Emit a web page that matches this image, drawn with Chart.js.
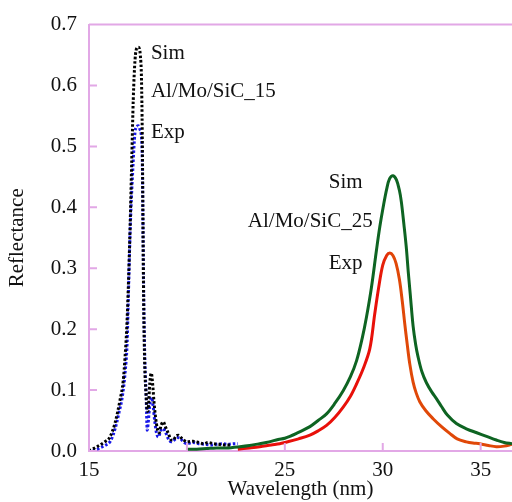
<!DOCTYPE html>
<html>
<head>
<meta charset="utf-8">
<script src="https://cdn.jsdelivr.net/npm/chart.js@4.4.1/dist/chart.umd.min.js"></script>
<style>
  html, body { margin: 0; padding: 0; background: #fff; }
  canvas { display: block; }
</style>
</head>
<body>
<canvas id="refl" width="512" height="502"></canvas>
<script>
/* ---------- data ---------- */
const xTicks = [15, 20, 25, 30, 35];
const yTicks = [0, 0.1, 0.2, 0.3, 0.4, 0.5, 0.6, 0.7];

// Al/Mo/SiC_15, simulated (black dotted)
const sim15X = [15.0, 15.4, 15.8, 16.07, 16.33, 16.58, 16.75, 16.84, 16.92, 17.0, 17.1, 17.18, 17.26, 17.35, 17.45, 17.52,
    17.62, 17.68, 17.72, 17.75, 17.78, 17.82, 17.86, 17.92, 17.98, 18.03, 18.10, 18.18, 18.25, 18.32, 18.40, 18.50,
    18.58, 18.68, 18.79, 18.90, 19.05, 19.20, 19.30, 19.45, 19.56, 19.70, 19.81, 20.0, 20.3, 20.6, 20.85, 21.1,
    21.35, 21.6, 21.9, 22.2];
const sim15Y = [0.000, 0.007, 0.015, 0.023, 0.046, 0.083, 0.116, 0.154, 0.197, 0.262, 0.370, 0.474, 0.577, 0.642, 0.662, 0.663,
    0.650, 0.610, 0.520, 0.400, 0.280, 0.180, 0.127, 0.090, 0.065, 0.070, 0.110, 0.128, 0.110, 0.080, 0.055, 0.035,
    0.030, 0.042, 0.048, 0.040, 0.029, 0.018, 0.018, 0.025, 0.026, 0.022, 0.019, 0.015, 0.016, 0.014, 0.012, 0.014,
    0.012, 0.011, 0.010, 0.010];

// Al/Mo/SiC_15, measured (blue dotted)
const exp15X = [15.2, 15.56, 15.8, 16.07, 16.25, 16.41, 16.55, 16.67, 16.78, 16.84, 16.95, 17.0, 17.1, 17.23, 17.35, 17.45,
    17.52, 17.6, 17.69, 17.73, 17.76, 17.80, 17.86, 17.91, 17.95, 17.97, 18.02, 18.10, 18.20, 18.28, 18.36, 18.45,
    18.54, 18.66, 18.79, 18.92, 19.05, 19.2, 19.35, 19.5, 19.65, 19.8, 20.0, 20.3, 20.6, 20.9, 21.2, 21.5,
    21.8, 22.1, 22.4, 22.6];
const exp15Y = [0.000, 0.005, 0.009, 0.015, 0.028, 0.046, 0.066, 0.083, 0.108, 0.127, 0.180, 0.240, 0.360, 0.458, 0.523, 0.533,
    0.534, 0.528, 0.510, 0.458, 0.360, 0.240, 0.140, 0.099, 0.050, 0.034, 0.045, 0.075, 0.088, 0.072, 0.048, 0.029,
    0.023, 0.033, 0.037, 0.030, 0.020, 0.015, 0.018, 0.022, 0.021, 0.016, 0.012, 0.014, 0.012, 0.011, 0.010, 0.011,
    0.012, 0.011, 0.012, 0.012];

// Al/Mo/SiC_25, simulated (green)
const sim25X = [20.0, 20.5, 21.0, 21.5, 22.0, 22.7, 23.2, 23.72, 24.2, 24.66, 25.0, 25.6, 26.28, 26.7, 27.13, 27.55,
    27.98, 28.35, 28.66, 28.95, 29.17, 29.42, 29.68, 29.85, 30.02, 30.2, 30.35, 30.53, 30.7, 30.85, 30.95, 31.08,
    31.2, 31.3, 31.41, 31.55, 31.68, 31.8, 32.0, 32.23, 32.5, 32.74, 33.0, 33.3, 33.76, 34.3, 34.8, 35.3,
    35.8, 36.2, 36.6];
const sim25Y = [0.003, 0.003, 0.004, 0.005, 0.005, 0.007, 0.009, 0.012, 0.015, 0.019, 0.021, 0.029, 0.040, 0.050, 0.061, 0.078,
    0.099, 0.122, 0.148, 0.185, 0.220, 0.268, 0.330, 0.368, 0.400, 0.430, 0.447, 0.452, 0.445, 0.428, 0.409, 0.372,
    0.335, 0.295, 0.255, 0.205, 0.175, 0.155, 0.130, 0.112, 0.097, 0.086, 0.073, 0.059, 0.045, 0.036, 0.030, 0.024,
    0.018, 0.014, 0.012];

// Al/Mo/SiC_25, measured (red -> orange)
const exp25X = [22.6, 23.2, 23.72, 24.3, 24.74, 25.0, 25.7, 26.28, 26.7, 27.13, 27.55, 27.98, 28.35, 28.66, 29.0, 29.34,
    29.59, 29.8, 30.0, 30.2, 30.36, 30.52, 30.68, 30.85, 31.0, 31.12, 31.25, 31.38, 31.55, 31.71, 31.89, 32.2,
    32.57, 33.0, 33.42, 33.8, 34.27, 34.6, 34.95, 35.4, 35.8, 36.2, 36.6];
const exp25Y = [0.003, 0.005, 0.007, 0.010, 0.012, 0.014, 0.020, 0.026, 0.033, 0.042, 0.055, 0.072, 0.090, 0.110, 0.135, 0.168,
    0.225, 0.270, 0.305, 0.321, 0.325, 0.321, 0.308, 0.282, 0.245, 0.210, 0.175, 0.143, 0.113, 0.095, 0.081, 0.066,
    0.053, 0.040, 0.029, 0.020, 0.015, 0.013, 0.012, 0.009, 0.007, 0.008, 0.011];

// in-plot labels: [text, x (nm), y (reflectance)]
const notes = [
    ["Sim", 18.16, 0.653],
    ["Al/Mo/SiC_15", 18.16, 0.591],
    ["Exp", 18.16, 0.523],
    ["Sim", 27.24, 0.441],
    ["Al/Mo/SiC_25", 23.11, 0.376],
    ["Exp", 27.24, 0.308]
];

/* ---------- style ---------- */
const AXIS_PINK = "#e2a8e6";
const SERIF = "'Liberation Serif', 'DejaVu Serif', serif";
const FONT_PX = 21;
const pts = (xs, ys) => xs.map((x, i) => ({ x, y: ys[i] }));

// red on the rising side, turning orange over the peak
function expColor(context) {
    const chart = context.chart;
    const { chartArea, scales } = chart;
    if (!chartArea) return "#e8100a";
    const x0 = scales.x.getPixelForValue(29.8);
    const x1 = scales.x.getPixelForValue(30.5);
    const grad = chart.ctx.createLinearGradient(x0, 0, x1, 0);
    grad.addColorStop(0, "#e8100a");
    grad.addColorStop(1, "#e04808");
    return grad;
}

/* ---------- plugins: inward ticks, top frame, text notes ---------- */
const decor = {
    id: "decor",
    afterDatasetsDraw(chart) {
        const { ctx, chartArea: a, scales } = chart;
        ctx.save();
        ctx.strokeStyle = AXIS_PINK;
        ctx.lineWidth = 2;
        ctx.beginPath();
        ctx.moveTo(a.left, a.top);
        ctx.lineTo(a.right, a.top);
        xTicks.forEach(v => {
            const px = scales.x.getPixelForValue(v);
            ctx.moveTo(px, a.bottom);
            ctx.lineTo(px, a.bottom - 8);
        });
        yTicks.forEach(v => {
            const py = scales.y.getPixelForValue(v);
            ctx.moveTo(a.left, py);
            ctx.lineTo(a.left + 8, py);
        });
        ctx.stroke();

        ctx.fillStyle = "#111";
        ctx.font = `${FONT_PX}px ${SERIF}`;
        ctx.textAlign = "left";
        ctx.textBaseline = "middle";
        notes.forEach(([txt, x, y]) => {
            ctx.fillText(txt, scales.x.getPixelForValue(x), scales.y.getPixelForValue(y));
        });
        ctx.restore();
    }
};

new Chart(document.getElementById("refl"), {
    type: "line",
    data: {
        datasets: [
            {
                label: "Sim Al/Mo/SiC_15",
                data: pts(sim15X, sim15Y),
                borderColor: "#000",
                borderWidth: 3,
                borderDash: [2.5, 2],
                pointRadius: 0,
                cubicInterpolationMode: "monotone"
            },
            {
                label: "Exp Al/Mo/SiC_15",
                data: pts(exp15X, exp15Y),
                borderColor: "#1818e8",
                borderWidth: 3,
                borderDash: [2.5, 2],
                pointRadius: 0,
                cubicInterpolationMode: "monotone"
            },
            {
                label: "Sim Al/Mo/SiC_25",
                data: pts(sim25X, sim25Y),
                borderColor: "#0e6422",
                borderWidth: 3,
                pointRadius: 0,
                tension: 0.35
            },
            {
                label: "Exp Al/Mo/SiC_25",
                data: pts(exp25X, exp25Y),
                borderColor: expColor,
                borderWidth: 3,
                pointRadius: 0,
                tension: 0.35
            }
        ]
    },
    options: {
        responsive: false,
        animation: false,
        layout: { padding: { top: 21, right: 0, left: 0, bottom: 0 } },
        plugins: { legend: { display: false }, tooltip: { enabled: false } },
        scales: {
            x: {
                type: "linear",
                min: 15,
                max: 36.6,
                afterBuildTicks: s => { s.ticks = xTicks.map(v => ({ value: v })); },
                afterFit: s => { s.height = 51; },
                grid: { display: false, drawTicks: false },
                border: { display: true, color: AXIS_PINK, width: 2 },
                ticks: {
                    padding: 7,
                    maxRotation: 0,
                    color: "#111",
                    font: { family: SERIF, size: FONT_PX }
                },
                title: {
                    display: true,
                    text: "Wavelength (nm)",
                    color: "#111",
                    font: { family: SERIF, size: FONT_PX },
                    padding: { top: 0, bottom: 0 }
                }
            },
            y: {
                min: 0,
                max: 0.7,
                afterBuildTicks: s => { s.ticks = yTicks.map(v => ({ value: v })); },
                afterFit: s => { s.width = 89; },
                grid: { display: false, drawTicks: false },
                border: { display: true, color: AXIS_PINK, width: 2 },
                ticks: {
                    padding: 12,
                    color: "#111",
                    font: { family: SERIF, size: FONT_PX },
                    callback: v => v.toFixed(1)
                },
                title: {
                    display: true,
                    text: "Reflectance",
                    color: "#111",
                    font: { family: SERIF, size: FONT_PX },
                    padding: { top: 5, bottom: 0 }
                }
            }
        }
    },
    plugins: [decor]
});
</script>
</body>
</html>
